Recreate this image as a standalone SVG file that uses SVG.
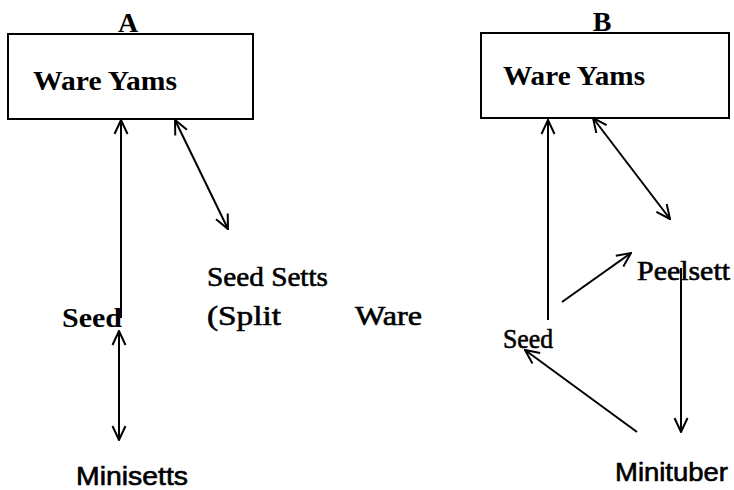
<svg xmlns="http://www.w3.org/2000/svg" width="734" height="490" viewBox="0 0 734 490">
<style>
.box{fill:#fff;stroke:#000;stroke-width:2}
.ln{stroke:#000;stroke-width:2;fill:none}
.t{font-family:"Liberation Serif","Times New Roman",serif;font-size:28px;fill:#000}
.h{stroke:#000;stroke-width:0.6}
.b{font-weight:bold}
.s{font-family:"Liberation Sans",Arial,sans-serif;font-size:25px;fill:#000}
</style>
<defs>
<marker id="arr" viewBox="0 0 16 16" refX="15" refY="8" markerWidth="16" markerHeight="16" markerUnits="userSpaceOnUse" orient="auto-start-reverse">
<path d="M1,1.5 L15,8 L1,14.5" fill="none" stroke="#000" stroke-width="2"/>
</marker>
</defs>
<rect width="734" height="490" fill="#fff"/>
<g id="labelA"><text class="t b" x="128" y="32" text-anchor="middle" font-size="26">A</text></g>
<g id="labelB"><text class="t b" x="602" y="31" text-anchor="middle" font-size="26">B</text></g>
<g id="wareA"><rect class="box" x="8" y="34" width="245" height="85"/><text class="t b" x="33" y="90" font-size="32" textLength="144" lengthAdjust="spacingAndGlyphs">Ware Yams</text></g>
<g id="wareB"><rect class="box" x="481" y="33" width="248" height="85"/><text class="t b" x="503" y="85" font-size="32" textLength="142" lengthAdjust="spacingAndGlyphs">Ware Yams</text></g>
<g id="seedSetts"><text class="t h" x="207" y="286" textLength="121" lengthAdjust="spacingAndGlyphs">Seed Setts</text></g>
<g id="seedA"><text class="t b" x="62" y="327" font-size="25" textLength="60" lengthAdjust="spacingAndGlyphs">Seed</text></g>
<g id="split"><text class="t h" x="207" y="325" textLength="74" lengthAdjust="spacingAndGlyphs">(Split</text></g>
<g id="ware"><text class="t h" x="355" y="325" textLength="67" lengthAdjust="spacingAndGlyphs">Ware</text></g>
<g id="minisetts"><text class="s h" x="76" y="485" textLength="112" lengthAdjust="spacingAndGlyphs">Minisetts</text></g>
<g id="peelsett"><text class="t h" x="637" y="280" font-size="26" textLength="93" lengthAdjust="spacingAndGlyphs">Peelsett</text></g>
<g id="seedB"><text class="t h" x="503" y="348" font-size="25" textLength="50" lengthAdjust="spacingAndGlyphs">Seed</text></g>
<g id="minituber"><text class="s h" x="615" y="481" font-size="21" textLength="113" lengthAdjust="spacingAndGlyphs">Minituber</text></g>
<g id="connectors">
<line class="ln" x1="121" y1="318" x2="121" y2="120" marker-end="url(#arr)"/>
<line class="ln" x1="175" y1="120" x2="228" y2="229" marker-start="url(#arr)" marker-end="url(#arr)"/>
<line class="ln" x1="119" y1="331" x2="119" y2="440" marker-start="url(#arr)" marker-end="url(#arr)"/>
<line class="ln" x1="548" y1="320" x2="548" y2="120" marker-end="url(#arr)"/>
<line class="ln" x1="593" y1="118" x2="670" y2="219" marker-start="url(#arr)" marker-end="url(#arr)"/>
<line class="ln" x1="562" y1="302" x2="631" y2="253" marker-end="url(#arr)"/>
<line class="ln" x1="681" y1="268" x2="681" y2="432" marker-end="url(#arr)"/>
<line class="ln" x1="637" y1="432" x2="525" y2="350" marker-end="url(#arr)"/>
</g>
</svg>
